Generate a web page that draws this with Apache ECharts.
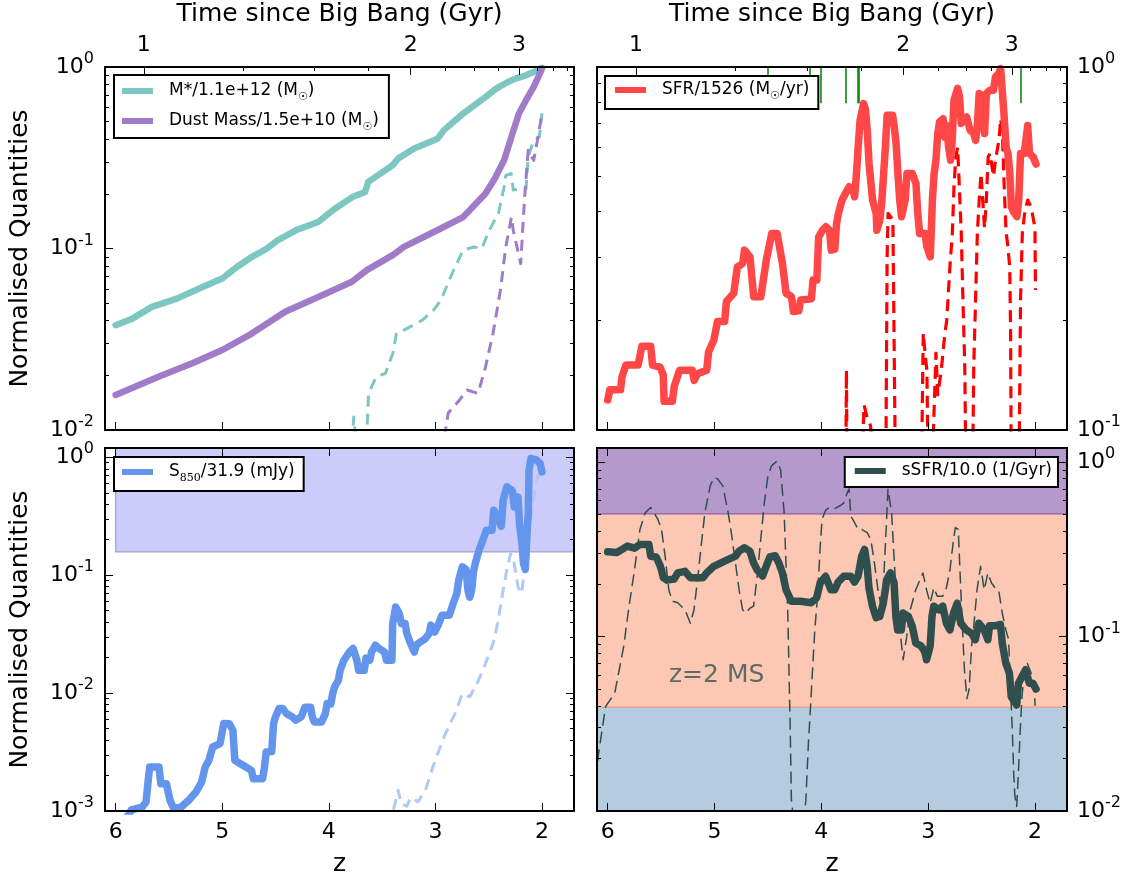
<!DOCTYPE html>
<html><head><meta charset="utf-8">
<script src="https://cdn.jsdelivr.net/npm/echarts@6/dist/echarts.min.js"></script>
<style>html,body{margin:0;padding:0;background:#fff}#c{width:1134px;height:884px}</style>
</head><body><div id="c"></div>
<script>
// ---------------- data ----------------
const zTicks = [6, 5, 4, 3, 2];
const timeMajor = [1, 2, 3];
const timeMinor = [1.25, 1.5, 1.75, 2.25, 2.5, 2.75, 3.25, 3.5, 3.75];
const zRange = [1.7, 6.1];
const yRangeTL = [0.01, 1], yRangeTR = [0.1, 1], yRangeBL = [0.001, 1.2], yRangeBR = [0.01, 1.2];

const mStar = [[6.00,0.0378],[5.84,0.0412],[5.66,0.0477],[5.42,0.0531],[5.18,0.0615],[5.00,0.0684],[4.86,0.0793],[4.72,0.0900],[4.58,0.1000],[4.48,0.1110],[4.31,0.1260],[4.10,0.1400],[3.96,0.1630],[3.78,0.1920],[3.66,0.2050],[3.63,0.2330],[3.40,0.2880],[3.35,0.3130],[3.20,0.3560],[2.98,0.4030],[2.92,0.4490],[2.74,0.5540],[2.57,0.6560],[2.43,0.7600],[2.32,0.8270],[2.25,0.8630],[2.15,0.9000],[2.08,0.9390],[2.00,0.9900]];
const dustMass = [[6.00,0.0156],[5.593,0.0197],[5.28,0.0233],[5.00,0.0276],[4.723,0.0340],[4.41,0.0448],[4.026,0.0565],[3.784,0.0656],[3.644,0.0760],[3.40,0.0920],[3.296,0.1020],[2.983,0.1260],[2.74,0.1490],[2.53,0.2010],[2.443,0.2430],[2.356,0.3060],[2.287,0.4120],[2.217,0.5540],[2.15,0.6560],[2.078,0.7760],[2.00,0.9800]];
const mStarMain = [[4.50,0.004],[3.80,0.006],[3.766,0.0118],[3.74,0.008],[3.65,0.008],[3.627,0.0159],[3.557,0.0196],[3.47,0.0205],[3.40,0.0264],[3.366,0.034],[3.296,0.0355],[3.122,0.0403],[3.018,0.0458],[2.948,0.052],[2.843,0.0729],[2.74,0.098],[2.635,0.102],[2.565,0.100],[2.495,0.126],[2.409,0.156],[2.356,0.218],[2.34,0.253],[2.29,0.259],[2.27,0.21],[2.15,0.214],[2.13,0.32],[2.078,0.395],[2.026,0.41],[2.0,0.556]];
const dustMain = [[3.20,0.004],[2.93,0.008],[2.88,0.0124],[2.775,0.0146],[2.704,0.0166],[2.60,0.0159],[2.53,0.0223],[2.46,0.034],[2.39,0.059],[2.34,0.102],[2.287,0.149],[2.27,0.126],[2.235,0.102],[2.20,0.0826],[2.165,0.185],[2.13,0.348],[2.078,0.306],[2.043,0.395],[2.0,0.556]];

const sfr = [[6.00,0.121],[5.98,0.129],[5.88,0.129],[5.866,0.140],[5.83,0.151],[5.715,0.151],[5.68,0.170],[5.597,0.170],[5.58,0.151],[5.51,0.149],[5.48,0.142],[5.472,0.120],[5.394,0.120],[5.377,0.132],[5.327,0.146],[5.208,0.146],[5.19,0.137],[5.158,0.143],[5.073,0.146],[5.056,0.164],[5.006,0.177],[4.972,0.199],[4.905,0.199],[4.888,0.226],[4.82,0.238],[4.786,0.281],[4.736,0.288],[4.719,0.313],[4.668,0.300],[4.633,0.233],[4.566,0.233],[4.515,0.294],[4.464,0.348],[4.414,0.348],[4.364,0.288],[4.33,0.238],[4.279,0.233],[4.262,0.212],[4.211,0.213],[4.194,0.228],[4.093,0.230],[4.077,0.259],[4.042,0.259],[4.025,0.340],[3.99,0.355],[3.958,0.363],[3.924,0.355],[3.907,0.313],[3.874,0.315],[3.857,0.371],[3.84,0.395],[3.806,0.430],[3.773,0.449],[3.739,0.468],[3.705,0.460],[3.688,0.439],[3.671,0.509],[3.655,0.602],[3.637,0.713],[3.604,0.793],[3.587,0.765],[3.57,0.669],[3.553,0.542],[3.52,0.430],[3.486,0.395],[3.48,0.355],[3.452,0.379],[3.435,0.421],[3.40,0.602],[3.384,0.736],[3.333,0.736],[3.317,0.684],[3.30,0.615],[3.283,0.509],[3.266,0.430],[3.249,0.387],[3.215,0.430],[3.198,0.509],[3.148,0.509],[3.114,0.478],[3.097,0.395],[3.08,0.348],[3.029,0.348],[3.012,0.320],[2.98,0.300],[2.96,0.430],[2.944,0.509],[2.927,0.554],[2.91,0.656],[2.893,0.706],[2.86,0.720],[2.843,0.641],[2.826,0.690],[2.808,0.600],[2.79,0.554],[2.775,0.628],[2.758,0.810],[2.724,0.873],[2.707,0.830],[2.69,0.699],[2.64,0.728],[2.607,0.670],[2.573,0.656],[2.556,0.628],[2.539,0.690],[2.522,0.845],[2.488,0.830],[2.472,0.656],[2.455,0.845],[2.421,0.863],[2.388,0.863],[2.37,0.939],[2.338,0.960],[2.321,0.990],[2.304,0.845],[2.287,0.720],[2.27,0.600],[2.253,0.578],[2.237,0.520],[2.22,0.412],[2.203,0.400],[2.169,0.387],[2.152,0.430],[2.135,0.578],[2.101,0.578],[2.085,0.628],[2.068,0.690],[2.051,0.578],[2.017,0.565],[1.99,0.540]];
const sfrMain = [[4.50,0.05],[3.775,0.05],[3.765,0.146],[3.755,0.05],[3.62,0.08],[3.60,0.117],[3.57,0.108],[3.54,0.103],[3.52,0.09],[3.40,0.05],[3.384,0.30],[3.375,0.395],[3.33,0.38],[3.30,0.05],[3.07,0.05],[3.046,0.185],[3.029,0.163],[3.012,0.146],[2.99,0.05],[2.95,0.10],[2.927,0.163],[2.91,0.125],[2.877,0.146],[2.843,0.185],[2.826,0.20],[2.809,0.243],[2.792,0.294],[2.775,0.34],[2.758,0.468],[2.741,0.565],[2.724,0.60],[2.707,0.46],[2.69,0.35],[2.674,0.228],[2.657,0.15],[2.64,0.05],[2.59,0.05],[2.573,0.15],[2.556,0.228],[2.539,0.35],[2.522,0.43],[2.505,0.509],[2.489,0.43],[2.472,0.36],[2.455,0.43],[2.438,0.565],[2.421,0.578],[2.388,0.50],[2.371,0.55],[2.337,0.63],[2.32,0.72],[2.303,0.63],[2.287,0.46],[2.27,0.35],[2.253,0.32],[2.236,0.28],[2.228,0.185],[2.219,0.05],[2.155,0.05],[2.135,0.228],[2.118,0.35],[2.094,0.40],[2.068,0.43],[2.034,0.41],[2.0,0.36],[1.995,0.243]];
const mergerLongZ = [4.007, 3.77, 3.657, 3.648, 2.13];
const mergerShortZ = [4.503, 4.107];
const mergerLongFrom = 0.794, mergerShortFrom = 0.944;

const s850 = [[6.00,0.0007],[5.87,0.00095],[5.854,0.00102],[5.75,0.00108],[5.715,0.00119],[5.69,0.0020],[5.68,0.00236],[5.594,0.00236],[5.576,0.0017],[5.524,0.0017],[5.49,0.00123],[5.455,0.00105],[5.385,0.00108],[5.316,0.00123],[5.246,0.00145],[5.194,0.00176],[5.16,0.00236],[5.125,0.00269],[5.09,0.00349],[5.021,0.00373],[4.986,0.00552],[4.934,0.0055],[4.90,0.00484],[4.882,0.00269],[4.83,0.00252],[4.778,0.00236],[4.726,0.00221],[4.709,0.00188],[4.622,0.00188],[4.605,0.0023],[4.588,0.00317],[4.536,0.0032],[4.519,0.0055],[4.501,0.00628],[4.467,0.0074],[4.432,0.0074],[4.397,0.0067],[4.345,0.0063],[4.31,0.0059],[4.258,0.0063],[4.224,0.0076],[4.172,0.0076],[4.155,0.0063],[4.137,0.0057],[4.068,0.0057],[4.033,0.0067],[4.016,0.00815],[3.981,0.0081],[3.964,0.0099],[3.946,0.0113],[3.911,0.0128],[3.894,0.0156],[3.859,0.019],[3.807,0.0223],[3.772,0.0239],[3.737,0.019],[3.72,0.0156],[3.668,0.0156],[3.651,0.0198],[3.616,0.019],[3.599,0.0223],[3.564,0.0255],[3.529,0.024],[3.477,0.0223],[3.46,0.019],[3.408,0.019],[3.401,0.0389],[3.373,0.0538],[3.338,0.047],[3.32,0.039],[3.285,0.039],[3.268,0.032],[3.233,0.0263],[3.198,0.0223],[3.18,0.0255],[3.146,0.027],[3.094,0.029],[3.059,0.032],[3.042,0.0377],[3.007,0.033],[2.973,0.038],[2.938,0.0458],[2.869,0.0458],[2.834,0.0575],[2.799,0.07],[2.782,0.0907],[2.747,0.118],[2.713,0.112],[2.695,0.0746],[2.678,0.065],[2.66,0.0746],[2.643,0.107],[2.626,0.126],[2.591,0.163],[2.556,0.198],[2.522,0.241],[2.469,0.241],[2.452,0.356],[2.417,0.31],[2.382,0.26],[2.365,0.433],[2.33,0.562],[2.278,0.52],[2.261,0.38],[2.226,0.46],[2.209,0.26],[2.191,0.198],[2.174,0.126],[2.157,0.112],[2.139,0.24],[2.129,0.33],[2.122,0.778],[2.104,0.977],[2.053,0.95],[2.018,0.887],[2.0,0.753]];
const s850Main = [[3.60,0.0006],[3.408,0.0009],[3.35,0.0015],[3.32,0.00115],[3.268,0.0011],[3.233,0.0013],[3.163,0.0012],[3.094,0.0015],[3.024,0.00236],[2.92,0.00425],[2.816,0.0067],[2.747,0.0099],[2.678,0.0093],[2.609,0.0121],[2.53,0.0178],[2.46,0.0263],[2.417,0.0389],[2.365,0.0746],[2.33,0.112],[2.295,0.153],[2.261,0.126],[2.226,0.08],[2.191,0.07],[2.157,0.126],[2.122,0.24],[2.087,0.38],[2.053,0.64],[2.018,0.75]];
const s850BandLow = 0.1575, s850BandZ = 6;

const ssfr = [[6.00,0.305],[5.918,0.302],[5.884,0.31],[5.816,0.329],[5.749,0.32],[5.698,0.336],[5.614,0.336],[5.597,0.288],[5.546,0.285],[5.513,0.258],[5.496,0.24],[5.479,0.217],[5.445,0.21],[5.378,0.213],[5.344,0.231],[5.276,0.236],[5.226,0.217],[5.108,0.217],[5.074,0.231],[5.007,0.252],[4.905,0.27],[4.804,0.288],[4.77,0.308],[4.72,0.322],[4.669,0.308],[4.634,0.264],[4.6,0.24],[4.55,0.222],[4.516,0.252],[4.482,0.285],[4.432,0.29],[4.398,0.264],[4.364,0.231],[4.33,0.185],[4.28,0.159],[4.196,0.159],[4.095,0.156],[4.044,0.166],[4.01,0.203],[3.96,0.221],[3.91,0.185],[3.875,0.185],[3.842,0.205],[3.791,0.221],[3.724,0.221],[3.69,0.205],[3.656,0.221],[3.622,0.288],[3.595,0.315],[3.571,0.252],[3.554,0.19],[3.521,0.149],[3.487,0.128],[3.453,0.13],[3.42,0.155],[3.386,0.213],[3.352,0.231],[3.319,0.203],[3.302,0.13],[3.285,0.109],[3.251,0.109],[3.234,0.136],[3.184,0.13],[3.15,0.115],[3.116,0.0917],[3.066,0.088],[3.032,0.082],[3.015,0.0735],[2.981,0.088],[2.964,0.13],[2.947,0.149],[2.897,0.142],[2.863,0.149],[2.829,0.119],[2.796,0.109],[2.762,0.136],[2.728,0.155],[2.695,0.119],[2.644,0.109],[2.593,0.104],[2.559,0.0957],[2.526,0.119],[2.475,0.109],[2.441,0.0957],[2.425,0.115],[2.374,0.115],[2.323,0.117],[2.306,0.0917],[2.273,0.0703],[2.239,0.0616],[2.222,0.0452],[2.171,0.0405],[2.154,0.054],[2.121,0.059],[2.087,0.0644],[2.053,0.054],[2.02,0.054],[1.99,0.05]];
const ssfrMain = [[6.12,0.012],[6.09,0.0204],[6.02,0.0396],[5.934,0.0473],[5.85,0.0877],[5.8,0.149],[5.749,0.24],[5.698,0.41],[5.648,0.512],[5.597,0.547],[5.53,0.469],[5.496,0.41],[5.462,0.288],[5.428,0.185],[5.395,0.159],[5.344,0.156],[5.276,0.142],[5.226,0.119],[5.192,0.142],[5.158,0.213],[5.125,0.33],[5.09,0.512],[5.04,0.728],[5.007,0.813],[4.973,0.8],[4.922,0.728],[4.872,0.512],[4.838,0.376],[4.804,0.264],[4.77,0.185],[4.737,0.142],[4.703,0.136],[4.669,0.145],[4.634,0.149],[4.6,0.222],[4.567,0.36],[4.533,0.584],[4.5,0.831],[4.466,0.948],[4.415,1.01],[4.381,0.9],[4.348,0.512],[4.331,0.264],[4.314,0.136],[4.304,0.0703],[4.291,0.0291],[4.28,0.0115],[4.26,0.009],[4.16,0.009],[4.145,0.0115],[4.12,0.025],[4.1,0.0405],[4.079,0.07],[4.061,0.109],[4.035,0.17],[4.01,0.33],[3.993,0.469],[3.96,0.527],[3.926,0.547],[3.875,0.54],[3.825,0.56],[3.791,0.58],[3.757,0.667],[3.74,0.7],[3.724,0.49],[3.69,0.45],[3.656,0.41],[3.622,0.41],[3.571,0.393],[3.537,0.36],[3.503,0.264],[3.47,0.185],[3.446,0.156],[3.42,0.19],[3.393,0.41],[3.376,0.697],[3.359,0.7],[3.342,0.512],[3.325,0.33],[3.302,0.185],[3.268,0.119],[3.251,0.0917],[3.234,0.0735],[3.2,0.1],[3.167,0.142],[3.116,0.185],[3.049,0.231],[3.015,0.185],[2.981,0.155],[2.947,0.19],[2.914,0.17],[2.863,0.17],[2.829,0.19],[2.796,0.24],[2.762,0.36],[2.745,0.42],[2.718,0.41],[2.705,0.264],[2.685,0.136],[2.66,0.064],[2.637,0.044],[2.616,0.05],[2.593,0.088],[2.576,0.109],[2.542,0.185],[2.509,0.252],[2.475,0.185],[2.441,0.231],[2.408,0.203],[2.374,0.19],[2.34,0.185],[2.306,0.136],[2.273,0.109],[2.246,0.0957],[2.233,0.0564],[2.212,0.0291],[2.199,0.0164],[2.188,0.0122],[2.171,0.0106],[2.155,0.0165],[2.138,0.0291],[2.121,0.0455],[2.098,0.064],[2.071,0.07],[2.037,0.062],[2.003,0.045],[1.998,0.04]];
const msUpper = 0.505, msLower = 0.0393;
const msLabelPos = [4.98, 0.0597];

const legendLabels = {
  mstar: 'M*/1.1e+12 (M{sub|☉})',
  dust: 'Dust Mass/1.5e+10 (M{sub|☉})',
  sfr: 'SFR/1526 (M{sub|☉}/yr)',
  s850: 'S{ssub|850}/31.9 (mJy)',
  ssfr: 'sSFR/10.0 (1/Gyr)'
};

// ---------------- helpers ----------------
const FONT = 'DejaVu Sans';
function zOfT(t) {
  const H0 = 68, Om = 0.3, OL = 0.7;
  const tH = 977.8 / H0;
  const pref = 2 / (3 * Math.sqrt(OL)) * tH;
  const x = Math.sinh(t / pref) / Math.sqrt(OL / Om);
  return Math.pow(x, -2 / 3) - 1;
}
const timeMajorZ = timeMajor.map(zOfT);
const timeMinorZ = timeMinor.map(zOfT);
function timeLabel(v) {
  for (let i = 0; i < timeMajor.length; i++) if (Math.abs(timeMajorZ[i] - v) < 1e-6) return String(timeMajor[i]);
  return '';
}
function decades(r) {
  const out = [];
  for (let e = Math.ceil(Math.log10(r[0]) - 1e-9); e <= Math.floor(Math.log10(r[1]) + 1e-9); e++) out.push(Number('1e' + e));
  return out;
}
function minors(r) {
  const out = [];
  for (let e = Math.floor(Math.log10(r[0]) - 1e-9); e <= Math.floor(Math.log10(r[1]) + 1e-9); e++)
    for (let k = 2; k <= 9; k++) { const v = Number(k + 'e' + e); if (v > r[0] && v < r[1]) out.push(v); }
  return out;
}
const nameStyle = { fontFamily: FONT, fontSize: 25, color: '#000' };
function makeX(grid, pos, ticks, len, line, label, extra) {
  const a = {
    type: 'value', gridIndex: grid, position: pos, min: zRange[0], max: zRange[1], inverse: true, z: 10,
    splitLine: { show: false },
    axisLine: { show: line, onZero: false, lineStyle: { color: '#000', width: 2 } },
    axisTick: { show: true, inside: true, length: len, lineStyle: { color: '#000', width: 1 }, customValues: ticks },
    axisLabel: label ? Object.assign({ show: true, customValues: ticks, color: '#000', fontFamily: FONT, fontSize: 22 }, label) : { show: false }
  };
  return Object.assign(a, extra || {});
}
const yRich = {
  b: { fontFamily: FONT, fontSize: 22, lineHeight: 32, color: '#000' },
  s: { fontFamily: FONT, fontSize: 16, lineHeight: 16, verticalAlign: 'top', color: '#000' }
};
function yFmt(v) { const e = Math.round(Math.log10(v)); return '{b|10}{s|' + e + '}'; }
function makeY(grid, pos, r, ticks, len, line, label, extra) {
  const a = {
    type: 'log', logBase: 10, gridIndex: grid, position: pos, min: r[0], max: r[1], z: 10,
    splitLine: { show: false }, minorTick: { show: false },
    axisLine: { show: line, onZero: false, lineStyle: { color: '#000', width: 2 } },
    axisTick: { show: true, inside: true, length: len, lineStyle: { color: '#000', width: 1 }, customValues: ticks },
    axisLabel: label ? { show: true, customValues: ticks, formatter: yFmt, rich: yRich, margin: label.margin } : { show: false }
  };
  return Object.assign(a, extra || {});
}
const yName = { name: 'Normalised Quantities', nameLocation: 'middle', nameGap: 72, nameRotate: 90, nameTextStyle: nameStyle };
const tName = { name: 'Time since Big Bang (Gyr)', nameLocation: 'middle', nameGap: 40, nameTextStyle: nameStyle };
const zName = { name: 'z', nameLocation: 'middle', nameGap: 41, nameTextStyle: nameStyle };

const xAxes = [
  makeX(0, 'bottom', zTicks, 8, true, null),
  makeX(1, 'bottom', zTicks, 8, true, null),
  makeX(2, 'bottom', zTicks, 8, true, { margin: 10 }, zName),
  makeX(3, 'bottom', zTicks, 8, true, { margin: 10 }, zName),
  makeX(0, 'top', timeMajorZ, 8, true, { margin: 11, formatter: timeLabel }, tName),
  makeX(0, 'top', timeMinorZ, 4, false, null),
  makeX(1, 'top', timeMajorZ, 8, true, { margin: 11, formatter: timeLabel }, tName),
  makeX(1, 'top', timeMinorZ, 4, false, null),
  makeX(2, 'top', zTicks, 8, true, null),
  makeX(3, 'top', zTicks, 8, true, null)
];
const ranges = [yRangeTL, yRangeTR, yRangeBL, yRangeBR];
const yAxes = [];
ranges.forEach((r, g) => {
  const leftLab = g % 2 === 0, rightLab = g % 2 === 1;
  yAxes.push(makeY(g, 'left', r, decades(r), 8, true, leftLab ? { margin: 11 } : null, leftLab ? yName : null));
  yAxes.push(makeY(g, 'left', r, minors(r), 4, false, null));
  yAxes.push(makeY(g, 'right', r, decades(r), 8, true, rightLab ? { margin: 10 } : null));
  yAxes.push(makeY(g, 'right', r, minors(r), 4, false, null));
});

function line(name, g, data, color, width, dash, z) {
  return {
    type: 'line', name: name, xAxisIndex: g, yAxisIndex: g * 4, data: data, showSymbol: false, symbol: 'none',
    silent: true, clip: true, z: z || 2,
    lineStyle: { color: color, width: width, type: dash || 'solid', cap: dash ? 'butt' : 'round', join: 'round' },
    itemStyle: { color: color }
  };
}
const C_M = '#7dc7c2', C_D = '#a07cc8', C_SFR = '#ff4747', C_S = '#6495ed', C_SS = '#2f4f4f';

const series = [
  line('mainM', 0, mStarMain, C_M, 3, [11, 7]),
  line('mainD', 0, dustMain, C_D, 3, [11, 7]),
  line('mstar', 0, mStar, C_M, 6.5),
  line('dust', 0, dustMass, C_D, 6.5),
  line('mainSfr', 1, sfrMain, '#ff0000', 3.2, [12, 7]),
  line('sfr', 1, sfr, C_SFR, 7.5),
  {
    type: 'line', xAxisIndex: 1, yAxisIndex: 4, data: [], silent: true, z: 3,
    markLine: {
      silent: true, symbol: ['none', 'none'], label: { show: false }, animation: false,
      lineStyle: { color: '#008000', width: 1.5, type: 'solid' },
      data: mergerLongZ.map(z => [{ coord: [z, mergerLongFrom] }, { coord: [z, 1] }])
        .concat(mergerShortZ.map(z => [{ coord: [z, mergerShortFrom] }, { coord: [z, 1] }]))
    }
  },
  {
    type: 'line', xAxisIndex: 2, yAxisIndex: 8, data: [], silent: true, z: 1,
    markArea: {
      silent: true, animation: false,
      data: [[{ coord: [s850BandZ, s850BandLow], itemStyle: { color: '#ccccfa', borderColor: '#a4a4c8', borderWidth: 1.2 } }, { coord: [zRange[0], yRangeBL[1]] }]]
    }
  },
  line('mainS', 2, s850Main, '#b1c9f6', 3, [11, 7]),
  line('s850', 2, s850, C_S, 7.5),
  {
    type: 'line', xAxisIndex: 3, yAxisIndex: 12, data: [], silent: true, z: 1,
    markArea: {
      silent: true, animation: false,
      data: [
        [{ coord: [zRange[1], yRangeBR[0]], itemStyle: { color: '#b4cbe0', borderWidth: 0 } }, { coord: [zRange[0], msLower] }],
        [{ coord: [zRange[1], msLower], itemStyle: { color: '#fcc8b4', borderColor: '#e5a496', borderWidth: 1.5 } }, { coord: [zRange[0], msUpper] }],
        [{ coord: [zRange[1], msUpper], itemStyle: { color: '#b598cc', borderColor: '#9e6cae', borderWidth: 1.5 } }, { coord: [zRange[0], yRangeBR[1]] }]
      ]
    }
  },
  line('mainSs', 3, ssfrMain, C_SS, 1.5, [12, 6]),
  line('ssfr', 3, ssfr, C_SS, 7.5),
  {
    type: 'scatter', xAxisIndex: 3, yAxisIndex: 12, data: [msLabelPos], symbolSize: 1, silent: true, z: 3,
    itemStyle: { color: 'rgba(0,0,0,0)' },
    label: { show: true, position: 'inside', formatter: 'z=2 MS', fontFamily: FONT, fontSize: 25, color: '#355353' }
  }
];

function legendCfg(data, pos, padding) {
  return Object.assign({
    data: data, orient: 'vertical', itemWidth: 31, itemHeight: 6, itemGap: 6, icon: 'rect', selectedMode: false,
    backgroundColor: '#fff', borderColor: '#000', borderWidth: 2, borderRadius: 0, padding: padding, z: 20,
    formatter: n => legendLabels[n],
    textStyle: {
      fontFamily: FONT, fontSize: 17, color: '#000', lineHeight: 24, padding: [0, 0, 0, 11],
      rich: {
        sub: { fontFamily: FONT, fontSize: 11, lineHeight: 8, verticalAlign: 'bottom', color: '#000' },
        ssub: { fontFamily: 'DejaVu Serif', fontSize: 11, lineHeight: 11, verticalAlign: 'bottom', color: '#000' }
      }
    }
  }, pos);
}

const chart = echarts.init(document.getElementById('c'), null, { renderer: 'canvas' });
chart.setOption({
  animation: false,
  backgroundColor: '#fff',
  textStyle: { fontFamily: FONT },
  grid: [
    { left: 105, top: 67, width: 469, height: 363, containLabel: false, outerBoundsMode: 'none' },
    { left: 597, top: 67, width: 470, height: 363, containLabel: false, outerBoundsMode: 'none' },
    { left: 105, top: 448, width: 469, height: 363, containLabel: false, outerBoundsMode: 'none' },
    { left: 597, top: 448, width: 470, height: 363, containLabel: false, outerBoundsMode: 'none' }
  ],
  xAxis: xAxes,
  yAxis: yAxes,
  legend: [
    legendCfg(['mstar', 'dust'], { left: 114, top: 75 }, [4, 10, 5, 8]),
    legendCfg(['sfr'], { left: 605, top: 76 }, [2, 9, 7, 10]),
    legendCfg(['s850'], { left: 114, top: 457 }, [3, 9, 7, 8]),
    legendCfg(['ssfr'], { right: 76, top: 457 }, [2, 6, 4, 10])
  ],
  series: series
});
</script></body></html>
